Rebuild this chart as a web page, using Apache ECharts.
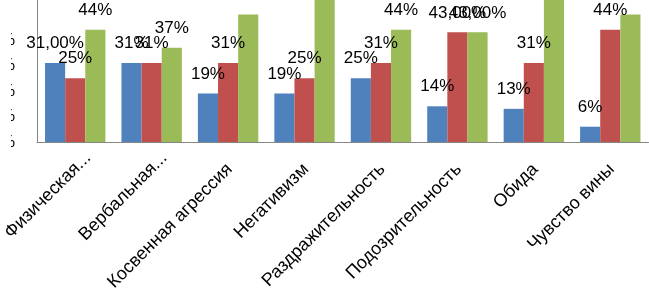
<!DOCTYPE html>
<html>
<head>
<meta charset="utf-8">
<script src="https://cdn.jsdelivr.net/npm/echarts@6/dist/echarts.min.js"></script>
<style>
  html, body { margin: 0; padding: 0; background: #fff; overflow: hidden; }
  body { width: 649px; height: 293px; position: relative; }
  /* the picture is a crop of a bigger chart, so the chart box sticks out on the left and top */
  #chart { position: absolute; left: -40px; top: -60px; width: 700px; height: 400px; }
</style>
</head>
<body>
<div id="chart"></div>
<script>
var categories = ['Физическая...', 'Вербальная...', 'Косвенная агрессия', 'Негативизм',
  'Раздражительность', 'Подозрительность', 'Обида', 'Чувство вины']

var blueValues = [31, 31, 19, 19, 25, 14, 13, 6]
var redValues = [25, 31, 31, 25, 31, 43, 31, 44]
var greenValues = [44, 37, 50, 56, 44, 43, 62, 50]

var blueLabels = ['31,00%', '31%', '19%', '19%', '25%', '14%', '13%', '6%']
var redLabels = ['25%', '31%', '31%', '25%', '31%', '43,00%', '31%', '44%']
var greenLabels = ['44%', '37%', '50%', '56%', '44%', '43,00%', '62%', '50%']

var yTicks = { min: 0, max: 70, interval: 10 }

var chart = echarts.init(document.getElementById('chart'))

function barSeries(name, values, labels, color) {
  return {
    name: name,
    type: 'bar',
    data: values,
    barGap: '0%',
    barCategoryGap: '21%',
    itemStyle: { color: color },
    label: {
      show: true,
      position: 'top',
      distance: 11,
      color: '#000',
      fontSize: 17,
      fontFamily: 'Liberation Sans',
      formatter: function(p) {
        return labels[p.dataIndex]
      }
    }
  }
}

// truncated names reach a bit further up the diagonal in the original
var xData = categories.map(function(c) {
  if (c.indexOf('...') > 0) {
    return { value: c, textStyle: { padding: [6, -18, 0, 0] } }
  }
  return c
})

chart.setOption({
  animation: false,
  grid: {
    left: 77,
    right: 11.5,
    top: 23.5,
    bottom: 198,
    outerBoundsMode: 'none'
  },
  // the source image is cut on the left, only slivers of the y labels show
  graphic: [{
    type: 'rect',
    left: 0,
    top: 0,
    z: 100,
    shape: { width: 51, height: 210 },
    style: { fill: '#fff' }
  }],
  xAxis: {
    type: 'category',
    data: xData,
    axisLine: { lineStyle: { color: '#868686', width: 1 } },
    axisTick: { show: false },
    axisLabel: {
      interval: 0,
      rotate: 45,
      margin: 26,
      padding: [10, -2, 0, 0],
      color: '#000',
      fontSize: 18,
      fontFamily: 'Liberation Sans'
    }
  },
  yAxis: {
    type: 'value',
    min: yTicks.min,
    max: yTicks.max,
    interval: yTicks.interval,
    splitLine: { show: false },
    axisLine: { show: true, lineStyle: { color: '#868686', width: 1 } },
    axisTick: { show: false },
    axisLabel: {
      margin: 22,
      color: '#000',
      fontSize: 17,
      fontFamily: 'Liberation Sans',
      formatter: function(v) {
        return v > 40 ? '' : v + '%'
      }
    }
  },
  series: [
    barSeries('blue', blueValues, blueLabels, '#4F81BD'),
    barSeries('red', redValues, redLabels, '#C0504D'),
    barSeries('green', greenValues, greenLabels, '#9BBB59')
  ]
})
</script>
</body>
</html>
